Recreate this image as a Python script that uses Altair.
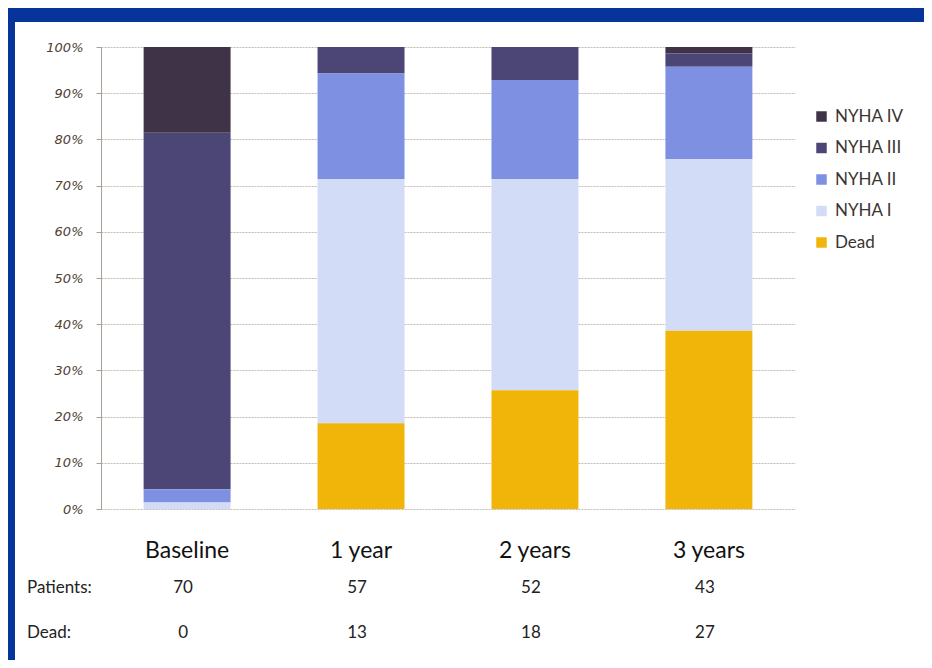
import altair as alt
import pandas as pd

periods = ["Baseline", "1 year", "2 years", "3 years"]
statuses = ["NYHA IV", "NYHA III", "NYHA II", "NYHA I", "Dead"]
status_colors = ["#3f3447", "#4b4675", "#7d90e2", "#d3dcf6", "#f1b50a"]
stack_rank = [4, 3, 2, 1, 0]

# percentages of the 70 baseline patients
nyha4_pct = [18.57, 0.0, 0.0, 1.43]
nyha3_pct = [77.14, 5.71, 7.14, 2.86]
nyha2_pct = [2.86, 22.86, 21.43, 20.0]
nyha1_pct = [1.43, 52.86, 45.71, 37.14]
dead_pct = [0.0, 18.57, 25.71, 38.57]

patients = [70, 57, 52, 43]
dead = [0, 13, 18, 27]

series = [nyha4_pct, nyha3_pct, nyha2_pct, nyha1_pct, dead_pct]
rows = []
for s, rank, vals in zip(statuses, stack_rank, series):
    for p, v in zip(periods, vals):
        rows.append({"Period": p, "Status": s, "Rank": rank, "Share": v / 100.0})
df = pd.DataFrame(rows)
table = pd.DataFrame({"Period": periods, "Patients": patients, "Dead": dead})
one = pd.DataFrame({"k": [0]})

FONT = "Lato"

x_enc = alt.X("Period:N", sort=periods, title=None,
              scale=alt.Scale(paddingInner=0.5, paddingOuter=0.245),
              axis=alt.Axis(labelFont=FONT, labelFontSize=23, labelColor="#111111",
                            labelAngle=0, labelPadding=30, ticks=False, domain=False,
                            grid=False))

bars = alt.Chart(df).mark_bar().encode(
    x=x_enc,
    y=alt.Y("Share:Q", stack="zero", title=None,
            scale=alt.Scale(domain=[0, 1], nice=False),
            axis=alt.Axis(format=".0%", values=[i / 10 for i in range(11)],
                          labelFont="DejaVu Sans", labelFontStyle="italic",
                          labelFontSize=13, labelColor="#4e4034",
                          labelPadding=13, tickSize=5, tickColor="#a8a098",
                          domainColor="#a8a098", gridColor="#c4bbb2",
                          gridDash=[2, 1])),
    color=alt.Color("Status:N", scale=alt.Scale(domain=statuses, range=status_colors),
                    legend=alt.Legend(orient="none", legendX=712, legendY=61,
                                      title=None, symbolType="square", symbolSize=110,
                                      symbolStrokeWidth=0, labelFont=FONT,
                                      labelFontSize=17, labelColor="#3a3530",
                                      labelOffset=5, rowPadding=13.5, padding=0)),
    order=alt.Order("Rank:Q", sort="ascending"),
)

pat_text = alt.Chart(table).mark_text(font=FONT, fontSize=17, color="#222222",
                                      baseline="middle", dx=-4).encode(
    x=alt.X("Period:N", sort=periods), y=alt.value(541), text="Patients:Q")
dead_text = alt.Chart(table).mark_text(font=FONT, fontSize=17, color="#222222",
                                       baseline="middle", dx=-4).encode(
    x=alt.X("Period:N", sort=periods), y=alt.value(586), text="Dead:Q")

lab1 = alt.Chart(one).mark_text(font=FONT, fontSize=17, color="#222222",
                                align="left", baseline="middle").encode(
    x=alt.value(-74), y=alt.value(541), text=alt.value("Patients:"))
lab2 = alt.Chart(one).mark_text(font=FONT, fontSize=17, color="#222222",
                                align="left", baseline="middle").encode(
    x=alt.value(-74), y=alt.value(586), text=alt.value("Dead:"))

border_top = alt.Chart(one).mark_rect(color="#06349a").encode(
    x=alt.value(-100), x2=alt.value(860), y=alt.value(-50), y2=alt.value(-25))
border_left = alt.Chart(one).mark_rect(color="#06349a").encode(
    x=alt.value(-100), x2=alt.value(-86), y=alt.value(-50), y2=alt.value(640))

chart = alt.layer(border_top, border_left, bars, pat_text, dead_text, lab1, lab2).properties(
    width=694, height=462,
    autosize=alt.AutoSizeParams(type="none"),
    padding={"left": 93, "top": 39, "right": 129, "bottom": 151},
    background="white",
).configure_view(stroke=None)

chart.save("out.html", embed_options={"renderer": "svg", "actions": False})
